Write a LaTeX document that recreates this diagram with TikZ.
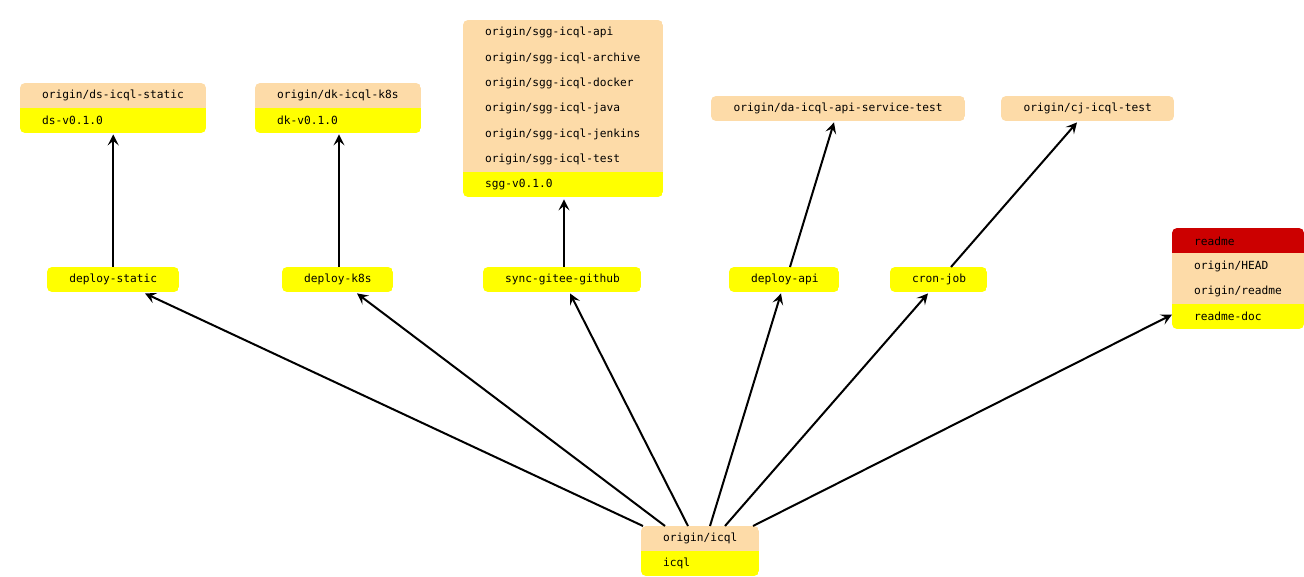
\documentclass[tikz,border=0pt]{standalone}
\usepackage{fontspec}
\setmonofont{DejaVu Sans Mono}
\usetikzlibrary{arrows.meta}
\definecolor{peach}{HTML}{FDDBA8}
\definecolor{yel}{HTML}{FFFF00}
\definecolor{redrow}{HTML}{CC0000}
\exhyphenpenalty=10000
\hyphenpenalty=10000
\tikzset{
  row/.style={rectangle, anchor=north west, inner xsep=22pt, inner ysep=0pt,
    minimum height=25pt, align=left, text=black,
    font=\ttfamily\fontsize{11.2}{13}\selectfont},
  crow/.style={row, align=center},
  arr/.style={line width=2pt, -{Stealth[length=11pt,width=11pt,inset=4.5pt]}},
}
\begin{document}
\begin{tikzpicture}[x=1pt,y=-1pt]
\useasboundingbox (0,0) rectangle (1304,577);

% ds box
\begin{scope}
\clip[rounded corners=5pt] (20,83) rectangle (206,133);
\node[row, fill=peach, text width=142pt] (ds1) at (20,83) {origin/ds-icql-static};
\node[row, fill=yel, text width=142pt] (ds2) at (20,108) {ds-v0.1.0};
\end{scope}

% dk box
\begin{scope}
\clip[rounded corners=5pt] (255,83) rectangle (421,133);
\node[row, fill=peach, text width=122pt] (dk1) at (255,83) {origin/dk-icql-k8s};
\node[row, fill=yel, text width=122pt] (dk2) at (255,108) {dk-v0.1.0};
\end{scope}

% sgg box
\begin{scope}
\clip[rounded corners=5pt] (463,20) rectangle (663,197);
\node[row, fill=peach, text width=156pt, minimum height=25.4pt] (sg1) at (463,20) {origin/sgg-icql-api};
\node[row, fill=peach, text width=156pt, minimum height=25.4pt] (sg2) at (463,45.33) {origin/sgg-icql-archive};
\node[row, fill=peach, text width=156pt, minimum height=25.4pt] (sg3) at (463,70.67) {origin/sgg-icql-docker};
\node[row, fill=peach, text width=156pt, minimum height=25.4pt] (sg4) at (463,96) {origin/sgg-icql-java};
\node[row, fill=peach, text width=156pt, minimum height=25.4pt] (sg5) at (463,121.33) {origin/sgg-icql-jenkins};
\node[row, fill=peach, text width=156pt, minimum height=25.4pt] (sg6) at (463,146.67) {origin/sgg-icql-test};
\node[row, fill=yel, text width=156pt, minimum height=25pt] (sg7) at (463,172) {sgg-v0.1.0};
\end{scope}

% da box
\begin{scope}
\clip[rounded corners=5pt] (711,96) rectangle (965,121);
\node[crow, fill=peach, text width=210pt] (da) at (711,96) {origin/da-icql-api-service-test};
\end{scope}

% cj box
\begin{scope}
\clip[rounded corners=5pt] (1001,96) rectangle (1174,121);
\node[crow, fill=peach, text width=129pt] (cj) at (1001,96) {origin/cj-icql-test};
\end{scope}

% readme box
\begin{scope}
\clip[rounded corners=5pt] (1172,228) rectangle (1304,329);
\node[row, fill=redrow, text width=88pt, minimum height=25.3pt] (rd1) at (1172,228) {readme};
\node[row, fill=peach, text width=88pt, minimum height=25.3pt] (rd2) at (1172,253.25) {origin/HEAD};
\node[row, fill=peach, text width=88pt, minimum height=25.3pt] (rd3) at (1172,278.5) {origin/readme};
\node[row, fill=yel, text width=88pt, minimum height=25.3pt] (rd4) at (1172,303.75) {readme-doc};
\end{scope}

% middle row
\begin{scope}
\clip[rounded corners=5pt] (47,267) rectangle (179,292);
\node[crow, fill=yel, text width=88pt] (ms) at (47,267) {deploy-static};
\end{scope}
\begin{scope}
\clip[rounded corners=5pt] (282,267) rectangle (393,292);
\node[crow, fill=yel, text width=67pt] (mk) at (282,267) {deploy-k8s};
\end{scope}
\begin{scope}
\clip[rounded corners=5pt] (483,267) rectangle (641,292);
\node[crow, fill=yel, text width=114pt] (mg) at (483,267) {sync-gitee-github};
\end{scope}
\begin{scope}
\clip[rounded corners=5pt] (729,267) rectangle (839,292);
\node[crow, fill=yel, text width=66pt] (ma) at (729,267) {deploy-api};
\end{scope}
\begin{scope}
\clip[rounded corners=5pt] (890,267) rectangle (987,292);
\node[crow, fill=yel, text width=53pt] (mc) at (890,267) {cron-job};
\end{scope}

% icql box
\begin{scope}
\clip[rounded corners=5pt] (641,526) rectangle (759,576);
\node[row, fill=peach, text width=74pt] (ic1) at (641,526) {origin/icql};
\node[row, fill=yel, text width=74pt] (ic2) at (641,551) {icql};
\end{scope}

% connectors from icql
\draw[arr] ([xshift=2pt]ic1.north west) -- ([xshift=98pt,yshift=-1pt]ms.south west);
\draw[arr] ([xshift=24pt]ic1.north west) -- ([xshift=75pt,yshift=-1pt]mk.south west);
\draw[arr] ([xshift=47pt]ic1.north west) -- ([xshift=87pt,yshift=-1pt]mg.south west);
\draw[arr] ([xshift=69pt]ic1.north west) -- ([xshift=52pt,yshift=-1pt]ma.south west);
\draw[arr] ([xshift=84pt]ic1.north west) -- ([xshift=38pt,yshift=-1pt]mc.south west);
\draw[arr] ([xshift=112pt]ic1.north west) -- ([yshift=2pt]rd4.west);

% connectors to tops
\draw[arr] (ms.north) -- ([yshift=-1pt]ds2.south);
\draw[arr] ([xshift=57pt]mk.north west) -- ([xshift=84pt,yshift=-1pt]dk2.south west);
\draw[arr] ([xshift=81pt]mg.north west) -- ([xshift=101pt,yshift=-2pt]sg7.south west);
\draw[arr] ([xshift=61pt]ma.north west) -- ([xshift=123pt,yshift=-1pt]da.south west);
\draw[arr] ([xshift=61pt]mc.north west) -- ([xshift=76pt,yshift=-1pt]cj.south west);
\end{tikzpicture}
\end{document}
